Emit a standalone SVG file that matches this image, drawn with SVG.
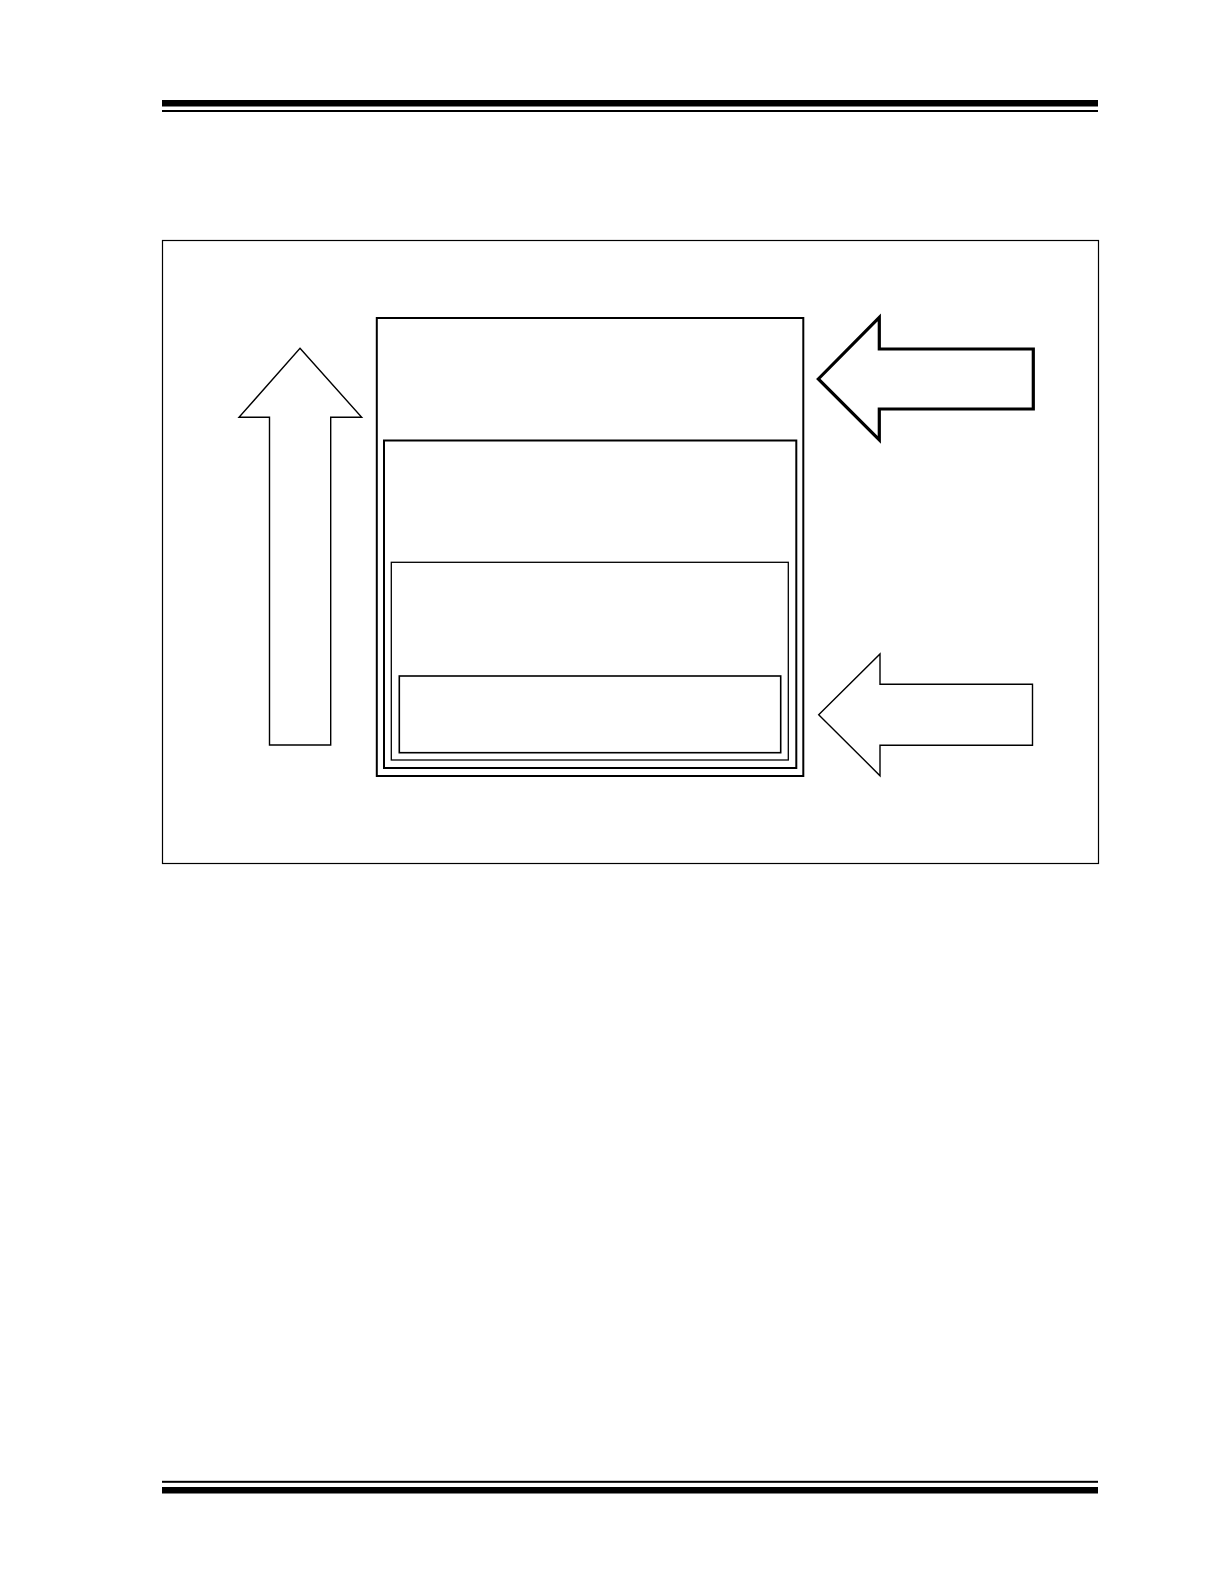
<svg xmlns="http://www.w3.org/2000/svg" width="1224" height="1584" viewBox="0 0 1224 1584">
<style>
.bar{fill:#000}
.frame{fill:none;stroke:#000;stroke-width:1.2}
.box{fill:#fff;stroke:#000}
.arrow{fill:#fff;stroke:#000;stroke-width:1.4;stroke-linejoin:miter}
.arrow-bold{fill:#fff;stroke:#000;stroke-width:3.2;stroke-linejoin:miter}
</style>
<rect width="1224" height="1584" fill="#fff"/>
<g id="header">
<rect class="bar" x="162" y="100" width="936" height="6.5"/>
<rect class="bar" x="162" y="110" width="936" height="2"/>
</g>
<g id="footer">
<rect class="bar" x="162" y="1480.8" width="936" height="2"/>
<rect class="bar" x="162" y="1487" width="936" height="6.5"/>
</g>
<rect id="frame" class="frame" x="162.5" y="240.5" width="936" height="623"/>
<g id="box-outer"><rect class="box" x="376.8" y="318" width="426.5" height="458" stroke-width="2"/></g>
<g id="box-2"><rect class="box" x="384" y="440.5" width="412.3" height="327.5" stroke-width="2"/></g>
<g id="box-3"><rect class="box" x="391.3" y="562.3" width="397" height="197.7" stroke-width="1.3"/></g>
<g id="box-inner"><rect class="box" x="399.3" y="676" width="381.4" height="76.7" stroke-width="1.6"/></g>
<g id="connectors">
<g id="arrow-up"><polygon class="arrow" points="300,348.3 361.7,417.3 330.7,417.3 330.7,745 269.5,745 269.5,417.3 239,417.3"/></g>
<g id="arrow-top-right"><polygon class="arrow-bold" points="818.3,379 879.3,317.3 879.3,349 1033.3,349 1033.3,409 879.3,409 879.3,440"/></g>
<g id="arrow-bottom-right"><polygon class="arrow" points="818.7,714.7 880,654 880,684.3 1032.5,684.3 1032.5,745.3 880,745.3 880,775.7"/></g>
</g>
</svg>
